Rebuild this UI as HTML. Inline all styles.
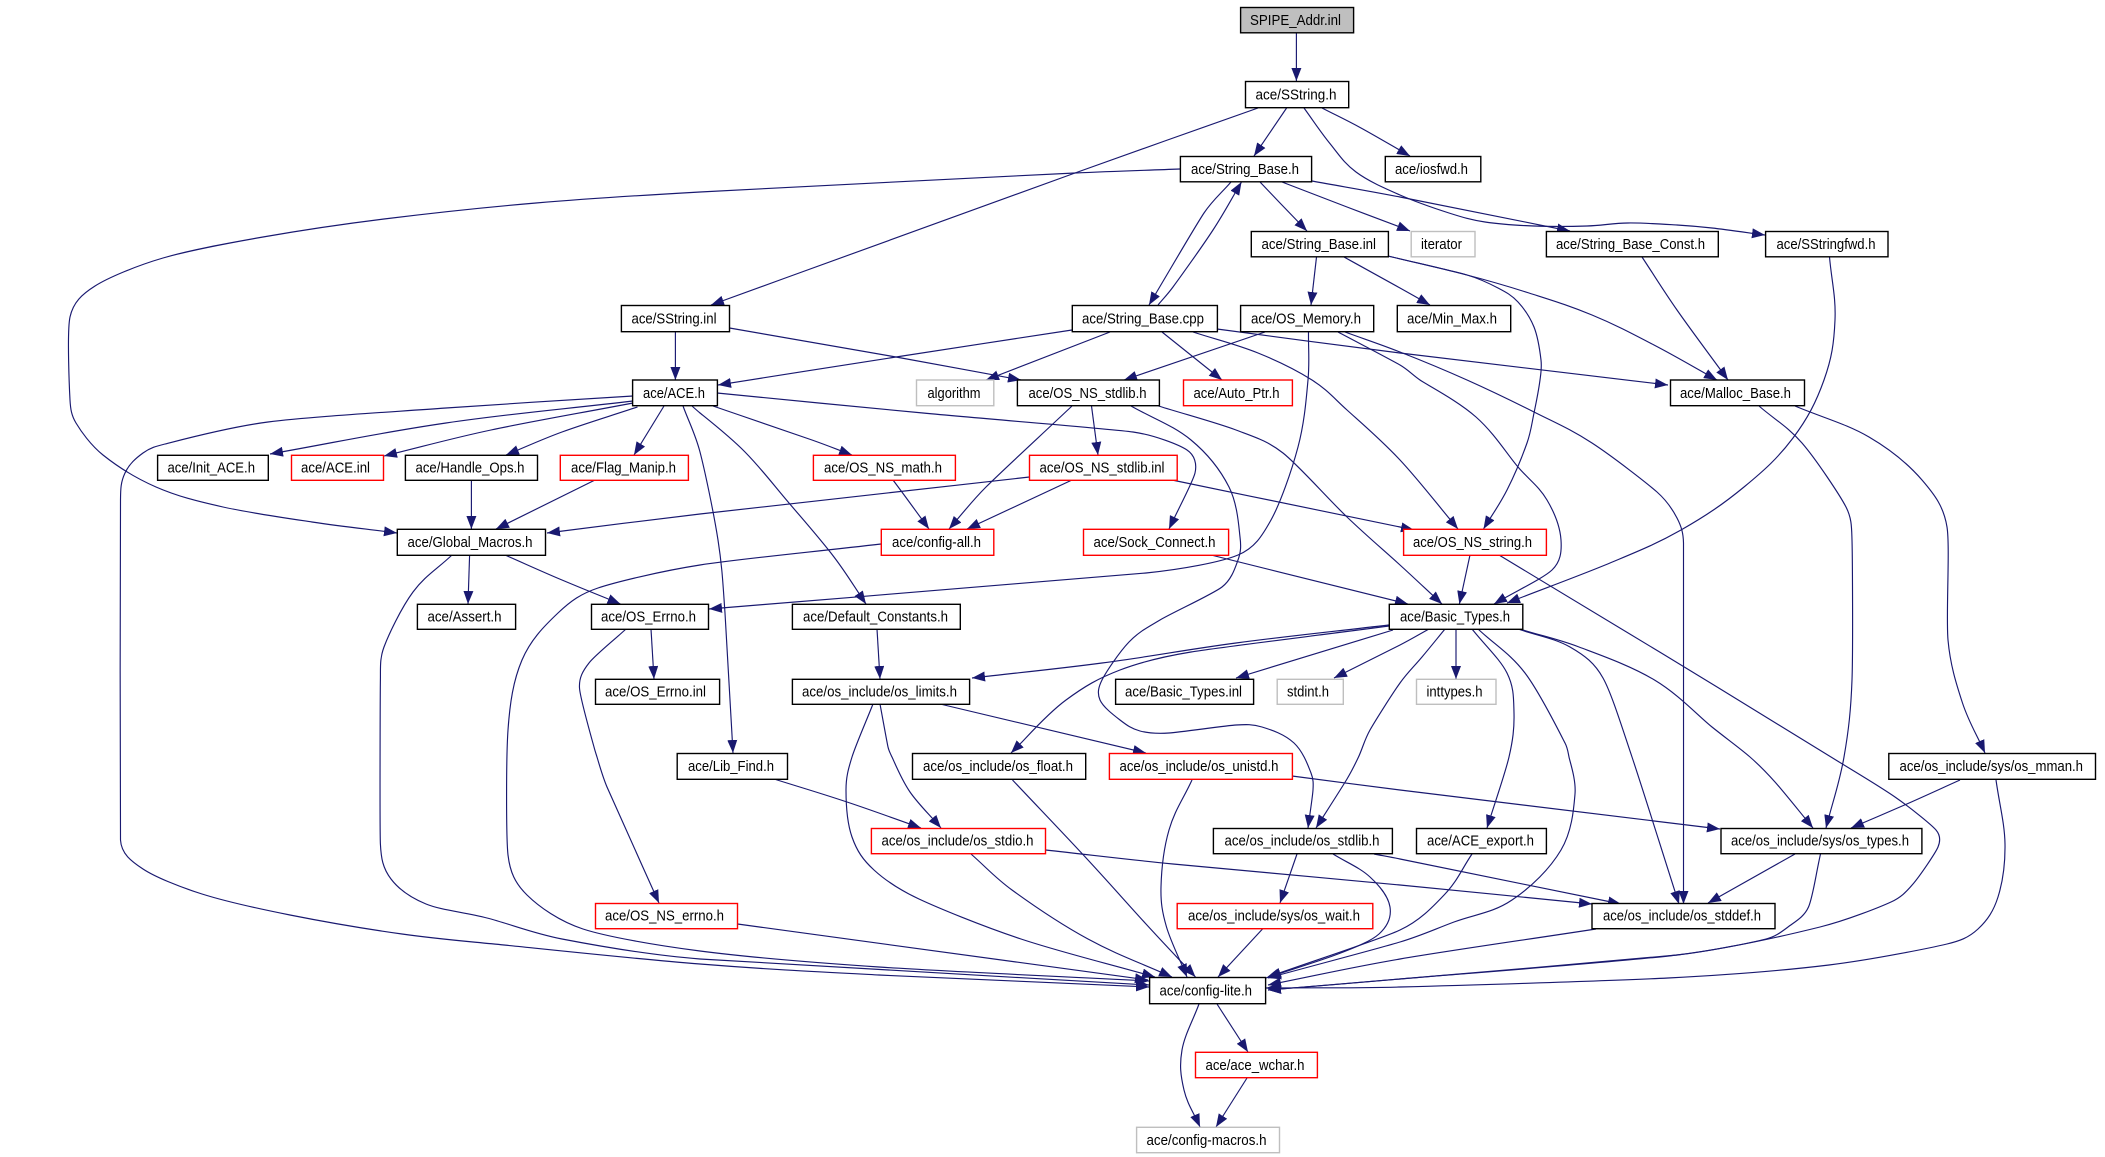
<!DOCTYPE html>
<html><head><meta charset="utf-8"><title>SPIPE_Addr.inl include graph</title>
<style>
html,body{margin:0;padding:0;background:#fff}
svg{display:block;filter:blur(.3px)}
.e{fill:none;stroke:#191970;stroke-width:1.15;stroke-linejoin:round;marker-end:url(#a)}
rect{fill:#fff;stroke:#000;stroke-width:1.4}
rect.r{stroke:#f00}
rect.g{stroke:#bfbfbf}
rect.s{fill:#bfbfbf}
text{font-family:"Liberation Sans",sans-serif;font-size:15px;fill:#000;transform:translateY(-.7px)}
</style></head><body>
<svg xmlns="http://www.w3.org/2000/svg" width="2105" height="1157" viewBox="0 0 2105 1157">
<defs><marker id="a" viewBox="0 0 13 10" refX="13" refY="5" markerWidth="13" markerHeight="10" orient="auto" markerUnits="userSpaceOnUse"><path d="M0 0L13 5L0 10Z" fill="#191970"/></marker></defs>
<g>
<path class="e" d="M1296.4 33L1296.4 81"/>
<path class="e" d="M1258 108L1075 173L711 305"/>
<path class="e" d="M1286.6 108L1254 156"/>
<path class="e" d="M1322 108L1361 128L1410 156"/>
<path class="e" d="M1304 108L1329.5 143L1356 172L1400 195L1449 213L1485 222L1534 226L1587 226L1628 223L1677 225L1712 228L1765 235"/>
<path class="e" d="M1312 181L1400 197L1570 231"/>
<path class="e" d="M1180 169L1075 173L700 192L536 203L384 219L263 237L163 258L95 286L70 317L70 400L76 423L103 455L156 487L223 507L312 522L397 533"/>
<path class="e" d="M1260 182L1280 203L1307 231"/>
<path class="e" d="M1282 182L1347 207L1400 227L1410 231"/>
<path class="e" d="M1231 182L1204 213L1149 305"/>
<path class="e" d="M1158 305L1173 287L1213 230L1241.5 182"/>
<path class="e" d="M1316.5 257L1311 305"/>
<path class="e" d="M1344 257L1400 288L1430 305"/>
<path class="e" d="M1388 256L1467 275L1529 293L1592 315L1654 345L1717 380"/>
<path class="e" d="M1388 256L1467 275L1498 288L1518 302L1534 327L1541 360L1540 380L1534 413L1527 443L1507 490L1483.5 529"/>
<path class="e" d="M1642 257L1677 310L1728 380"/>
<path class="e" d="M1829.5 257L1835 320L1824 380L1793 438L1744 487L1681 530L1610 563L1507 603"/>
<path class="e" d="M675.4 332L675.4 380"/>
<path class="e" d="M729.5 328L896 357L1021 380"/>
<path class="e" d="M1072 330L896 357L718 385"/>
<path class="e" d="M1110 332L986 380"/>
<path class="e" d="M1162 332L1222 380"/>
<path class="e" d="M1217 329L1400 353L1668 385"/>
<path class="e" d="M1193 332L1258 353L1312 380L1347 410L1400 460L1458 529"/>
<path class="e" d="M1265 332L1124 380"/>
<path class="e" d="M1308.5 332L1308 380L1298 447L1271 520L1238 555L1146 573L709 609"/>
<path class="e" d="M1338 332L1400 365L1420 380L1476 417L1518 467L1547 500L1561 540L1552 570L1494 604"/>
<path class="e" d="M1345 332L1400 352L1467 380L1534 412L1592 443L1657 492L1677 518L1683.5 543L1683.5 904"/>
<path class="e" d="M1072 406L986 487L949 529"/>
<path class="e" d="M1091.5 406L1098 455"/>
<path class="e" d="M1158.5 406L1236 430L1283 453L1347 517L1400 565L1442 604"/>
<path class="e" d="M1131 406L1191 440L1229 487L1240 537L1238 560L1222 587L1160 620L1129 642L1102 680L1100 700L1120 720L1140 731L1169 733L1236 725L1262 727L1294 743L1311 773L1313 790L1308 828"/>
<path class="e" d="M633 396L446 408L268 422L165 444L143 453L125 473L120.5 500L120.5 840L143 869L202 894L290 915L402 934L504 945L700 964L879 975L1149 987"/>
<path class="e" d="M633 401L446 423L270 454"/>
<path class="e" d="M633 403L491 430L384 456"/>
<path class="e" d="M637.5 407L562 432L506 455"/>
<path class="e" d="M664 406L634 455"/>
<path class="e" d="M683 406L700 452L718 540L725 613L733 753"/>
<path class="e" d="M692 406L700 413L745 452L789 503L834 557L866 604"/>
<path class="e" d="M713 406L812 440L852 455"/>
<path class="e" d="M717 393L923 413L1133 432L1187 450L1195 473L1169 529"/>
<path class="e" d="M471.4 480L471.4 529"/>
<path class="e" d="M595 480L496 529"/>
<path class="e" d="M1029.5 477L700 514L547 533"/>
<path class="e" d="M1072 480L967 529"/>
<path class="e" d="M1172 480L1400 527L1414 530"/>
<path class="e" d="M893 480L910 503L929 529"/>
<path class="e" d="M881 544L700 565L598 588L558 613L522 660L508 730L508 855L527 895L583 929L700 951L879 967L1149 981"/>
<path class="e" d="M452 555L413 592L384 647L380.4 680L380.4 844L391 879L426 904L487 918L562 939L700 959L1149 985"/>
<path class="e" d="M469.6 555L468 604"/>
<path class="e" d="M505 555L562 580L620.5 604"/>
<path class="e" d="M651 629L654 679"/>
<path class="e" d="M626 629L589 663L579.5 688L594 747L597 757L607 787L659 903"/>
<path class="e" d="M737.5 924L1148 980"/>
<path class="e" d="M877 629L880 679"/>
<path class="e" d="M940 704L1146 753"/>
<path class="e" d="M880 704L888 747L892 757L910 792L941 828"/>
<path class="e" d="M873 704L852 757L846 790L852 837L874 870L919 899L1021 939L1155 977"/>
<path class="e" d="M774 779L847 802L921 828"/>
<path class="e" d="M1012.5 780L1088 860L1146 924L1195.5 977"/>
<path class="e" d="M1192 780L1169 830L1161 887L1166.5 927L1187 977"/>
<path class="e" d="M1292 776L1400 790L1720 829"/>
<path class="e" d="M971 854L1012 890L1088 939L1172 977"/>
<path class="e" d="M1045.5 850L1173 864L1400 885L1592 904"/>
<path class="e" d="M1297 854L1280 903"/>
<path class="e" d="M1333 854L1370 877L1390 907L1379 934L1338 954L1266 978"/>
<path class="e" d="M1374 854L1400 859L1621 904"/>
<path class="e" d="M1262.5 929L1218 977"/>
<path class="e" d="M1217 1004L1248 1052"/>
<path class="e" d="M1199 1004L1182 1050L1184 1090L1200 1127"/>
<path class="e" d="M1247 1078L1216 1127"/>
<path class="e" d="M1470 555L1459.4 604"/>
<path class="e" d="M1211 555L1400 602L1408 604"/>
<path class="e" d="M1499 555L1681 665L1831 757L1895 797L1936 830L1938 847L1913 884L1891 902L1820 927L1677 955L1400 979L1268 990"/>
<path class="e" d="M1389 625L1236 643L1102 663L972 678"/>
<path class="e" d="M1393 630L1236 678"/>
<path class="e" d="M1429 629L1400 645L1334 678"/>
<path class="e" d="M1456 629L1456 679"/>
<path class="e" d="M1389 626L1191 652L1120 670L1066 700L1021 743L1011 753"/>
<path class="e" d="M1445 629L1422 657L1400 683L1370 730L1358.5 757L1347 779L1316 828"/>
<path class="e" d="M1472 629L1507 673L1514 713L1509 757L1487 828"/>
<path class="e" d="M1478 629L1525 673L1565 743L1569 757L1575 794L1561 850L1512 900L1454 922L1400 942L1268 978"/>
<path class="e" d="M1518 629L1570 647L1603 678L1632 757L1679 904"/>
<path class="e" d="M1523 630L1579 647L1654.5 680L1712 727L1750 757L1775 782L1813 828"/>
<path class="e" d="M1759 406L1802 443L1846 507L1852 540L1852 680L1844 757L1826 828"/>
<path class="e" d="M1795 406L1869 437L1922 480L1947 527L1948 640L1962.5 703L1985 753"/>
<path class="e" d="M1960 780L1904.5 805L1851 828"/>
<path class="e" d="M1996 780L2005 844L1998 897L1978 929L1947 944L1829 965L1668 978L1400 987L1266 988"/>
<path class="e" d="M1795 854L1708 903"/>
<path class="e" d="M1820.5 854L1808.5 907L1788 927L1766 939L1677 955L1400 979L1268 990"/>
<path class="e" d="M1596 929L1400 959L1268 985"/>
<path class="e" d="M1472 854L1445 894L1400 930L1268 977"/>
</g>
<g>
<rect class="s" x="1240.6" y="7.5" width="113" height="25.3"/><text x="1250" y="25.5" textLength="91" lengthAdjust="spacingAndGlyphs">SPIPE_Addr.inl</text>
<rect x="1245.5" y="81.5" width="103.2" height="26.2"/><text x="1255.5" y="100" textLength="81" lengthAdjust="spacingAndGlyphs">ace/SString.h</text>
<rect x="1180.4" y="156.5" width="131.2" height="25.3"/><text x="1191" y="174.5" textLength="108" lengthAdjust="spacingAndGlyphs">ace/String_Base.h</text>
<rect x="1385.3" y="156.5" width="95.5" height="25.3"/><text x="1395" y="174.5" textLength="73" lengthAdjust="spacingAndGlyphs">ace/iosfwd.h</text>
<rect x="1251.3" y="231.5" width="137.1" height="25.3"/><text x="1261.5" y="249.5" textLength="114.5" lengthAdjust="spacingAndGlyphs">ace/String_Base.inl</text>
<rect class="g" x="1411.2" y="231.5" width="63.8" height="25.3"/><text x="1421" y="249.5" textLength="41" lengthAdjust="spacingAndGlyphs">iterator</text>
<rect x="1546.4" y="231.5" width="171.9" height="25.3"/><text x="1556" y="249.5" textLength="149" lengthAdjust="spacingAndGlyphs">ace/String_Base_Const.h</text>
<rect x="1765.6" y="231.5" width="122.4" height="25.3"/><text x="1776.5" y="249.5" textLength="99" lengthAdjust="spacingAndGlyphs">ace/SStringfwd.h</text>
<rect x="621.4" y="305.5" width="108.1" height="26.2"/><text x="631.5" y="324" textLength="85" lengthAdjust="spacingAndGlyphs">ace/SString.inl</text>
<rect x="1072.3" y="305.5" width="145.1" height="26.2"/><text x="1082" y="324" textLength="122" lengthAdjust="spacingAndGlyphs">ace/String_Base.cpp</text>
<rect x="1240.6" y="305.5" width="133.1" height="26.2"/><text x="1251" y="324" textLength="110" lengthAdjust="spacingAndGlyphs">ace/OS_Memory.h</text>
<rect x="1397.3" y="305.5" width="113.4" height="26.2"/><text x="1407" y="324" textLength="90" lengthAdjust="spacingAndGlyphs">ace/Min_Max.h</text>
<rect x="632.6" y="380" width="84.8" height="25.7"/><text x="643" y="398.5" textLength="62" lengthAdjust="spacingAndGlyphs">ace/ACE.h</text>
<rect class="g" x="916.5" y="380" width="77.3" height="25.7"/><text x="927.5" y="398.5" textLength="53" lengthAdjust="spacingAndGlyphs">algorithm</text>
<rect x="1017.4" y="380" width="142" height="25.7"/><text x="1028.5" y="398.5" textLength="118" lengthAdjust="spacingAndGlyphs">ace/OS_NS_stdlib.h</text>
<rect class="r" x="1183.5" y="380" width="108.9" height="25.7"/><text x="1193.5" y="398.5" textLength="86" lengthAdjust="spacingAndGlyphs">ace/Auto_Ptr.h</text>
<rect x="1670.5" y="380" width="134" height="25.7"/><text x="1680" y="398.5" textLength="111" lengthAdjust="spacingAndGlyphs">ace/Malloc_Base.h</text>
<rect x="157.6" y="455.3" width="110.7" height="25"/><text x="167.5" y="473" textLength="87.5" lengthAdjust="spacingAndGlyphs">ace/Init_ACE.h</text>
<rect class="r" x="291.5" y="455.3" width="92" height="25"/><text x="301" y="473" textLength="69" lengthAdjust="spacingAndGlyphs">ace/ACE.inl</text>
<rect x="405.4" y="455.3" width="132.1" height="25"/><text x="415.5" y="473" textLength="109" lengthAdjust="spacingAndGlyphs">ace/Handle_Ops.h</text>
<rect class="r" x="560.3" y="455.3" width="128.1" height="25"/><text x="571" y="473" textLength="105" lengthAdjust="spacingAndGlyphs">ace/Flag_Manip.h</text>
<rect class="r" x="813.4" y="455.3" width="142" height="25"/><text x="824" y="473" textLength="118" lengthAdjust="spacingAndGlyphs">ace/OS_NS_math.h</text>
<rect class="r" x="1029.5" y="455.3" width="147.7" height="25"/><text x="1039.5" y="473" textLength="125" lengthAdjust="spacingAndGlyphs">ace/OS_NS_stdlib.inl</text>
<rect x="397.3" y="529.3" width="148.2" height="26"/><text x="407.5" y="547.5" textLength="125" lengthAdjust="spacingAndGlyphs">ace/Global_Macros.h</text>
<rect class="r" x="881.3" y="529.3" width="112.5" height="26"/><text x="892" y="547.5" textLength="89" lengthAdjust="spacingAndGlyphs">ace/config-all.h</text>
<rect class="r" x="1083.5" y="529.3" width="145.1" height="26"/><text x="1093.5" y="547.5" textLength="122" lengthAdjust="spacingAndGlyphs">ace/Sock_Connect.h</text>
<rect class="r" x="1403.6" y="529.3" width="142.8" height="26"/><text x="1413" y="547.5" textLength="119" lengthAdjust="spacingAndGlyphs">ace/OS_NS_string.h</text>
<rect x="417.4" y="604.3" width="98.2" height="25"/><text x="427.5" y="622" textLength="74" lengthAdjust="spacingAndGlyphs">ace/Assert.h</text>
<rect x="591.5" y="604.3" width="117" height="25"/><text x="601" y="622" textLength="95" lengthAdjust="spacingAndGlyphs">ace/OS_Errno.h</text>
<rect x="792.4" y="604.3" width="167.9" height="25"/><text x="803" y="622" textLength="145" lengthAdjust="spacingAndGlyphs">ace/Default_Constants.h</text>
<rect x="1389.3" y="604.3" width="133.5" height="25"/><text x="1400" y="622" textLength="110" lengthAdjust="spacingAndGlyphs">ace/Basic_Types.h</text>
<rect x="595.5" y="679.3" width="124.1" height="25"/><text x="605" y="697" textLength="101" lengthAdjust="spacingAndGlyphs">ace/OS_Errno.inl</text>
<rect x="792.4" y="679.3" width="177.2" height="25"/><text x="802" y="697" textLength="155" lengthAdjust="spacingAndGlyphs">ace/os_include/os_limits.h</text>
<rect x="1115.6" y="679.3" width="138" height="25"/><text x="1125" y="697" textLength="117" lengthAdjust="spacingAndGlyphs">ace/Basic_Types.inl</text>
<rect class="g" x="1277.2" y="679.3" width="66.1" height="25"/><text x="1287" y="697" textLength="42" lengthAdjust="spacingAndGlyphs">stdint.h</text>
<rect class="g" x="1416.5" y="679.3" width="79.5" height="25"/><text x="1426.5" y="697" textLength="56" lengthAdjust="spacingAndGlyphs">inttypes.h</text>
<rect x="677.2" y="753.5" width="110.3" height="25.8"/><text x="688" y="771.5" textLength="86" lengthAdjust="spacingAndGlyphs">ace/Lib_Find.h</text>
<rect x="912.5" y="753.5" width="173.2" height="25.8"/><text x="923" y="771.5" textLength="150" lengthAdjust="spacingAndGlyphs">ace/os_include/os_float.h</text>
<rect class="r" x="1109.4" y="753.5" width="183" height="25.8"/><text x="1119.5" y="771.5" textLength="159" lengthAdjust="spacingAndGlyphs">ace/os_include/os_unistd.h</text>
<rect x="1888.8" y="753.5" width="206.7" height="25.8"/><text x="1899.5" y="771.5" textLength="183.5" lengthAdjust="spacingAndGlyphs">ace/os_include/sys/os_mman.h</text>
<rect class="r" x="871.4" y="828.5" width="174.1" height="25.2"/><text x="881.5" y="846" textLength="152" lengthAdjust="spacingAndGlyphs">ace/os_include/os_stdio.h</text>
<rect x="1213.4" y="828.5" width="179" height="25.2"/><text x="1224.5" y="846" textLength="155" lengthAdjust="spacingAndGlyphs">ace/os_include/os_stdlib.h</text>
<rect x="1416.5" y="828.5" width="129.9" height="25.2"/><text x="1427" y="846" textLength="107" lengthAdjust="spacingAndGlyphs">ace/ACE_export.h</text>
<rect x="1721" y="828.5" width="200.9" height="25.2"/><text x="1731" y="846" textLength="178" lengthAdjust="spacingAndGlyphs">ace/os_include/sys/os_types.h</text>
<rect class="r" x="595.5" y="903.5" width="142" height="25.2"/><text x="605" y="921" textLength="119" lengthAdjust="spacingAndGlyphs">ace/OS_NS_errno.h</text>
<rect class="r" x="1177.2" y="903.5" width="195.6" height="25.2"/><text x="1188" y="921" textLength="172" lengthAdjust="spacingAndGlyphs">ace/os_include/sys/os_wait.h</text>
<rect x="1592" y="903.5" width="183" height="25.2"/><text x="1603" y="921" textLength="158" lengthAdjust="spacingAndGlyphs">ace/os_include/os_stddef.h</text>
<rect x="1149.6" y="977.5" width="116" height="26.2"/><text x="1159.5" y="996" textLength="92.5" lengthAdjust="spacingAndGlyphs">ace/config-lite.h</text>
<rect class="r" x="1195.5" y="1052.3" width="121.9" height="25.4"/><text x="1205.5" y="1070.5" textLength="99" lengthAdjust="spacingAndGlyphs">ace/ace_wchar.h</text>
<rect class="g" x="1136.6" y="1127.3" width="142.9" height="25.4"/><text x="1146.5" y="1145.5" textLength="120" lengthAdjust="spacingAndGlyphs">ace/config-macros.h</text>
</g>
</svg>
<script>
document.querySelectorAll('path.e').forEach(function(el){
  var n=el.getAttribute('d').match(/-?[\d.]+/g).map(Number),p=[],i;
  for(i=0;i<n.length;i+=2)p.push([n[i],n[i+1]]);
  if(p.length<3)return;
  function len(a,b){return Math.hypot(b[0]-a[0],b[1]-a[1]);}
  var t=p.map(function(q,j){
    var a=p[Math.max(j-1,0)],b=p[Math.min(j+1,p.length-1)],l=len(a,b)||1;
    return [(b[0]-a[0])/l,(b[1]-a[1])/l];
  });
  var d='M'+p[0][0]+' '+p[0][1];
  for(i=0;i<p.length-1;i++){
    var a=p[i],b=p[i+1],L=len(a,b);
    var pr=i>0?len(p[i-1],a):L,nx=i<p.length-2?len(b,p[i+2]):L;
    var h1=Math.min(L,pr)*.38,h2=Math.min(L,nx)*.38;
    d+='C'+(a[0]+t[i][0]*h1).toFixed(1)+' '+(a[1]+t[i][1]*h1).toFixed(1)+' '+(b[0]-t[i+1][0]*h2).toFixed(1)+' '+(b[1]-t[i+1][1]*h2).toFixed(1)+' '+b[0]+' '+b[1];
  }
  el.setAttribute('d',d);
});
</script>
</body></html>
